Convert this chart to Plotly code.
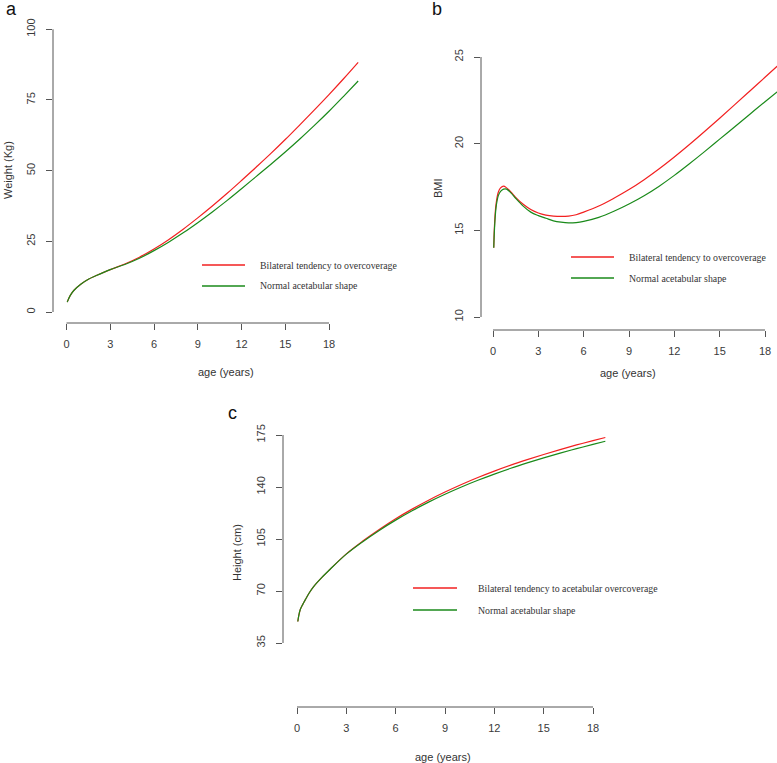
import plotly.graph_objects as go

W, H = 777, 763

# ---------------- data ----------------
weight_age = [0.05, 0.25, 0.5, 1, 1.5, 2, 3, 4, 5, 6, 7, 8, 9, 10, 11, 12, 13, 14, 15, 16, 17, 18, 19, 20]
weight_over = [3.5, 5.8, 7.6, 9.9, 11.6, 12.8, 15.0, 17.0, 19.4, 22.3, 25.6, 29.3, 33.3, 37.5, 41.9, 46.5,
               51.2, 56.0, 61.0, 66.2, 71.5, 76.9, 82.5, 88.3]
weight_norm = [3.5, 5.8, 7.6, 9.9, 11.6, 12.8, 15.0, 16.8, 19.0, 21.7, 24.7, 28.0, 31.6, 35.4, 39.4, 43.6,
               47.9, 52.2, 56.6, 61.2, 66.0, 71.0, 76.3, 81.7]

bmi_age = [0.05, 0.1, 0.2, 0.35, 0.5, 0.7, 0.9, 1.2, 1.5, 2, 2.5, 3, 3.5, 4, 4.5, 5, 5.5, 6, 7, 8, 9, 10,
           11, 12, 13, 14, 15, 16, 17, 18, 19, 20]
bmi_over = [14.0, 15.3, 16.5, 17.2, 17.45, 17.55, 17.45, 17.2, 16.9, 16.5, 16.2, 16.0, 15.88, 15.82, 15.8,
            15.82, 15.9, 16.05, 16.4, 16.85, 17.35, 17.92, 18.55, 19.23, 19.95, 20.7, 21.47, 22.25, 23.04,
            23.83, 24.62, 25.4]
bmi_norm = [14.0, 15.1, 16.3, 17.0, 17.25, 17.38, 17.38, 17.15, 16.85, 16.4, 16.05, 15.85, 15.7, 15.55,
            15.47, 15.43, 15.45, 15.52, 15.75, 16.1, 16.52, 17.0, 17.55, 18.17, 18.84, 19.54, 20.26, 20.98,
            21.7, 22.42, 23.12, 23.8]

height_age = [0.05, 0.1, 0.2, 0.35, 0.5, 0.75, 1, 1.5, 2, 3, 4, 5, 6, 7, 8, 9, 10, 11, 12, 13, 14, 15, 16,
              17, 18, 18.75]
height_over = [49.5, 53, 57.5, 61, 64, 68.8, 72.8, 79.0, 84.5, 95.0, 103.6, 111.4, 118.6, 125.1, 131.1,
               136.6, 141.7, 146.4, 150.7, 154.7, 158.4, 161.9, 165.2, 168.3, 171.2, 173.3]
height_norm = [49.5, 53, 57.5, 61, 64, 68.8, 72.8, 79.0, 84.5, 94.8, 103.2, 110.8, 117.7, 124.0, 129.8,
               135.1, 140.0, 144.5, 148.7, 152.6, 156.2, 159.6, 162.8, 165.8, 168.7, 170.8]

x_ticks = [0, 3, 6, 9, 12, 15, 18]
weight_ticks = [0, 25, 50, 75, 100]
bmi_ticks = [10, 15, 20, 25]
height_ticks = [35, 70, 105, 140, 175]

legend_ab = ["Bilateral tendency to overcoverage", "Normal acetabular shape"]
legend_c = ["Bilateral tendency to acetabular overcoverage", "Normal acetabular shape"]

RED = "#f22020"
GREEN = "#1a8a1a"
AXC = "#555555"
TXT = "#3a3a3a"
SANS = "Liberation Sans, Arial, sans-serif"
SERIF = "Liberation Serif, Times New Roman, serif"


def lin(v0, p0, v1, p1, e0, e1):
    s = (p1 - p0) / (v1 - v0)
    return [v0 + (e0 - p0) / s, v0 + (e1 - p0) / s]


# panel geometry (pixels): tick anchors and plot edges
panels = [
    dict(x=(0, 66.5, 18, 329, 53, 372), y=(0, 312, 100, 29.3, 323, 18),
         ages=weight_age, over=weight_over, norm=weight_norm, yt=weight_ticks,
         ytitle="Weight (Kg)", ytitle_xy=(8, 170), xtitle_xy=(226, 372), lab="a", lab_xy=(11, 9),
         leg=legend_ab, leg_xy=(202, 245, 258, 265, 286)),
    dict(x=(0, 493, 18, 765, 481, 777), y=(10, 317, 25, 57, 330, 45),
         ages=bmi_age, over=bmi_over, norm=bmi_norm, yt=bmi_ticks,
         ytitle="BMI", ytitle_xy=(438, 188), xtitle_xy=(628, 373), lab="b", lab_xy=(437, 9),
         leg=legend_ab, leg_xy=(571, 614, 627, 257, 278)),
    dict(x=(0, 297, 18, 593, 283, 618), y=(35, 643, 175, 435, 707, 424),
         ages=height_age, over=height_over, norm=height_norm, yt=height_ticks,
         ytitle="Height (cm)", ytitle_xy=(237, 553), xtitle_xy=(443, 757), lab="c", lab_xy=(233, 413),
         leg=legend_c, leg_xy=(413, 457, 476, 588, 610)),
]

fig = go.Figure()
shapes, annotations = [], []

for i, p in enumerate(panels):
    n = "" if i == 0 else str(i + 1)
    xa, ya = "x" + n, "y" + n
    v0, p0, v1, p1, e0, e1 = p["x"]
    xr = lin(v0, p0, v1, p1, e0, e1)
    xdom = [e0 / W, e1 / W]
    w0, q0, w1, q1, b, t = p["y"]
    yr = lin(w0, q0, w1, q1, b, t)
    ydom = [1 - b / H, 1 - t / H]

    fig.add_trace(go.Scatter(x=p["ages"], y=p["over"], mode="lines", xaxis=xa, yaxis=ya,
                             line=dict(color=RED, width=1.2, shape="spline", smoothing=1.0),
                             showlegend=False))
    fig.add_trace(go.Scatter(x=p["ages"], y=p["norm"], mode="lines", xaxis=xa, yaxis=ya,
                             line=dict(color=GREEN, width=1.2, shape="spline", smoothing=1.0),
                             showlegend=False))

    common = dict(showgrid=False, zeroline=False, showline=False, ticks="outside", ticklen=6,
                  tickwidth=1, tickcolor=AXC, tickfont=dict(family=SANS, size=11, color=TXT))
    fig.update_layout(**{
        "xaxis" + n: dict(domain=xdom, range=xr, anchor=ya, tickvals=x_ticks,
                          ticklabelstandoff=5, **common),
        "yaxis" + n: dict(domain=ydom, range=yr, anchor=xa, tickvals=p["yt"], tickangle=-90,
                          ticklabelstandoff=7, **common),
    })

    # detached R-style axis lines spanning first to last tick
    shapes.append(dict(type="line", xref=xa, yref=ya + " domain", x0=x_ticks[0], x1=x_ticks[-1],
                       y0=0, y1=0, line=dict(color=AXC, width=1)))
    shapes.append(dict(type="line", xref=xa + " domain", yref=ya, x0=0, x1=0,
                       y0=p["yt"][0], y1=p["yt"][-1], line=dict(color=AXC, width=1)))

    # titles
    tx, ty = p["xtitle_xy"]
    annotations.append(dict(text="age (years)", x=tx / W, y=1 - ty / H, xref="paper", yref="paper",
                            showarrow=False, xanchor="center", yanchor="middle",
                            font=dict(family=SANS, size=11, color="#333333")))
    tx, ty = p["ytitle_xy"]
    annotations.append(dict(text=p["ytitle"], x=tx / W, y=1 - ty / H, xref="paper", yref="paper",
                            showarrow=False, xanchor="center", yanchor="middle", textangle=-90,
                            font=dict(family=SANS, size=11, color="#333333")))
    lx, ly = p["lab_xy"]
    annotations.append(dict(text=p["lab"], x=lx / W, y=1 - ly / H, xref="paper", yref="paper",
                            showarrow=False, xanchor="center", yanchor="middle",
                            font=dict(family=SANS, size=18, color="#111111")))

    # legend
    l0, l1, txs, ry, gy = p["leg_xy"]
    for label, col, yy in [(p["leg"][0], RED, ry), (p["leg"][1], GREEN, gy)]:
        shapes.append(dict(type="line", xref="paper", yref="paper", x0=l0 / W, x1=l1 / W,
                           y0=1 - yy / H, y1=1 - yy / H, line=dict(color=col, width=1.5)))
        annotations.append(dict(text=label, x=txs / W, y=1 - yy / H, xref="paper", yref="paper",
                                showarrow=False, xanchor="left", yanchor="middle",
                                font=dict(family=SERIF, size=9.8, color="#333333")))

fig.update_layout(width=W, height=H, margin=dict(l=0, r=0, t=0, b=0),
                  paper_bgcolor="white", plot_bgcolor="white",
                  shapes=shapes, annotations=annotations, showlegend=False)

fig.write_html("out.html")
